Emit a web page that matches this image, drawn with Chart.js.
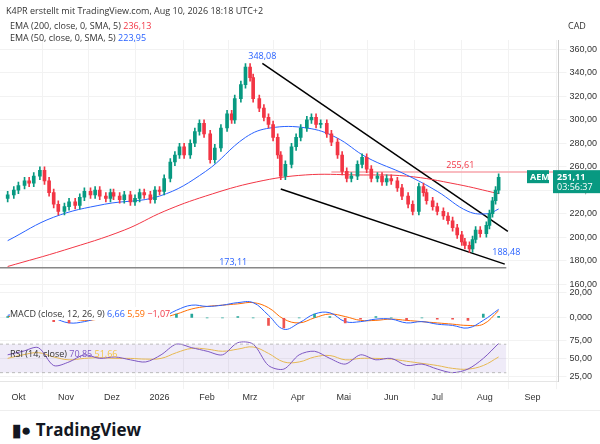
<!DOCTYPE html>
<html><head><meta charset="utf-8">
<script src="https://cdn.jsdelivr.net/npm/chart.js@4/dist/chart.umd.min.js"></script>
<style>
body{margin:0;background:#fff;font-family:"Open Sans",Roboto,sans-serif;}
#wrap{position:relative;width:600px;height:444px;}
canvas{position:absolute;left:0;top:0;}
.t{position:absolute;font-size:9px;color:#333;white-space:nowrap;}
#foot{position:absolute;left:0;top:410px;width:600px;height:34px;border-top:1px solid #eee;}
</style></head><body>
<div id="wrap">
<canvas id="c" width="600" height="410"></canvas>
<div class="t" style="left:6px;top:4px;">K4PR erstellt mit TradingView.com, Aug 10, 2026 18:18 UTC+2</div>
<div class="t" style="left:10px;top:19px;">EMA (200, close, 0, SMA, 5) <span style="color:#f23645">236,13</span></div>
<div class="t" style="left:10px;top:31px;">EMA (50, close, 0, SMA, 5) <span style="color:#2962ff">223,95</span></div>
<div class="t" style="left:568px;top:19px;">CAD</div>
<div class="t" style="left:10px;top:307px;background:#fff;">MACD (close, 12, 26, 9) <span style="color:#2962ff">6,66</span> <span style="color:#ff6d00">5,59</span> <span style="color:#f23645">−1,07</span></div>
<div class="t" style="left:10px;top:347px;">RSI (14, close) <span style="color:#7e57c2">70,85</span> <span style="color:#f5c542">51,66</span></div>
<div id="foot"><div class="t" style="left:12px;top:7px;font-size:17px;font-weight:bold;color:#131722;">&#9646;&#9679; TradingView</div></div>
</div>
<script>
// price candles: day offsets from 1 Oct 2025, closes
const days=[-7,-3,0,4,7,10,14,17,20,23,26,30,33,37,40,43,47,50,53,57,60,62,66,69,73,76,79,82,86,89,92,95,99,102,105,108,112,115,118,121,125,128,132,136,139,141,145,148,151,153,157,160,163,166,169,171,174,178,181,184,188,191,194,197,201,204,208,211,214,217,221,224,227,230,234,237,240,243,247,250,254,257,261,264,266,270,273,277,280,283,286,289,291,294,296,298,301,305,307,309,311,313];
const closes=[236,240,244,248,246,252,257,248,238,228,222,226,230,227,234,239,236,240,235,233,238,235,232,236,230,233,238,236,232,240,239,250,264,270,277,270,280,290,297,288,266,276,293,305,300,318,330,345,336,318,310,302,296,285,270,252,262,277,285,293,300,302,296,297,288,281,270,256,250,252,262,268,258,250,252,247,250,248,242,235,228,222,243,238,231,226,222,218,214,208,202,196,193,190,198,206,203,210,220,231,240,251];
const emaDays50=[-7,23,56,92,122,148,164,188,207,227,253,273,293,306,313];
const ema50=[197,217,228,235,256,285,293,293,285,268,253,239,222,220,224];
const emaDays200=[-7,30,69,95,122,155,187,220,253,286,313];
const ema200=[175,189,206,222,235,247,253,253,252,245,237];
// MACD / RSI
const oscDays=[-7,3,13,23,33,43,53,63,73,83,93,103,113,123,133,143,153,163,173,183,193,203,213,223,233,243,253,263,273,283,293,303,313];
const macd=[2,4,5,0,-4,-3,0,1,0,-1,0,6,10,9,10,12,12,2,-9,-4,3,4,-3,-3,-1,-1,-4,-3,-5,-6,-8,-2,6.7];
const signal=[1,2,4,3,0,-2,-1,0,0,0,0,3,7,9,10,11,12,8,-1,-4,0,3,1,-2,-2,-1,-2,-3,-4,-5,-6,-5,5.6];
const rsi=[55,60,65,40,45,55,50,52,48,45,55,70,65,60,55,72,70,40,35,55,60,50,42,55,48,50,40,42,35,30,35,50,71];
const rsiMa=[50,55,58,52,48,50,51,50,50,49,50,58,64,63,60,63,66,57,45,45,52,54,48,50,50,49,46,43,40,36,35,40,52];
const monthDays=[0,31,61,92,123,151,182,212,243,273,304,335];
const monthLabels=["Okt","Nov","Dez","2026","Feb","Mrz","Apr","Mai","Jun","Jul","Aug","Sep"];
const upper=[[159,348],[319,205]];
const lower=[[171,241],[317,177]];

const GREEN="#089981",RED="#f23645";
const opens=closes.map((c,i)=>i?closes[i-1]:c-3);
const col=closes.map((c,i)=>c>=opens[i]?GREEN:RED);
const bodies=days.map((d,i)=>({x:d,y:[opens[i],closes[i]]}));
const wicks=days.map((d,i)=>({x:d,y:[Math.min(opens[i],closes[i])-3,Math.max(opens[i],closes[i])+3]}));
const pts=(xs,ys)=>xs.map((x,i)=>({x:x,y:ys[i]}));
const hist=oscDays.map((d,i)=>({x:d,y:macd[i]-signal[i]}));

const labelsPlugin={id:"lbl",afterDatasetsDraw(ch){
  const c=ch.ctx,x=ch.scales.x,y=ch.scales.y;
  c.save();c.font="9px 'Open Sans'";c.textAlign="center";
  c.fillStyle="#2962ff";
  c.fillText("348,08",x.getPixelForValue(159),y.getPixelForValue(352));
  c.fillText("188,48",x.getPixelForValue(318),y.getPixelForValue(185));
  c.fillText("173,11",x.getPixelForValue(140),y.getPixelForValue(176));
  c.fillStyle=RED;c.fillText("255,61",x.getPixelForValue(288),y.getPixelForValue(259));
  const py=y.getPixelForValue(251.11);
  c.fillStyle="#089981";c.fillRect(527,py-7,22,13);c.fillRect(553,py-7,47,23);
  c.fillStyle="#fff";c.textAlign="left";c.font="bold 9px 'Open Sans'";
  c.fillText("AEM",530,py+3);c.fillText("251,11",557,py+3);
  c.font="9px 'Open Sans'";c.fillText("03:56:37",557,py+13);
  c.restore();
}};

const yTicks=(vals,fmt)=>({afterBuildTicks:a=>{a.ticks=vals.map(v=>({value:v}));},
  ticks:{autoSkip:false,color:"#333",font:{size:9},callback:fmt},
  grid:{color:"#f2f2f2"},border:{color:"#ccc"}});
const fmt2=v=>v.toFixed(2).replace(".",",");

new Chart(document.getElementById("c"),{
  data:{datasets:[
    {type:"bar",data:wicks,backgroundColor:col,barThickness:1,grouped:false,yAxisID:"y"},
    {type:"bar",data:bodies,backgroundColor:col,barThickness:3,grouped:false,yAxisID:"y"},
    {type:"line",data:pts(emaDays50,ema50),borderColor:"#2962ff",borderWidth:1,pointRadius:0,tension:0.4,yAxisID:"y"},
    {type:"line",data:pts(emaDays200,ema200),borderColor:RED,borderWidth:1,pointRadius:0,tension:0.4,yAxisID:"y"},
    {type:"line",data:upper.map(p=>({x:p[0],y:p[1]})),borderColor:"#000",borderWidth:1.5,pointRadius:0,yAxisID:"y"},
    {type:"line",data:lower.map(p=>({x:p[0],y:p[1]})),borderColor:"#000",borderWidth:1.5,pointRadius:0,yAxisID:"y"},
    {type:"line",data:[{x:204,y:255.61},{x:352,y:255.61}],borderColor:"#f7a5ab",borderWidth:1.5,pointRadius:0,yAxisID:"y"},
    {type:"line",data:[{x:-12,y:174},{x:318,y:174}],borderColor:"#888",borderWidth:1.5,pointRadius:0,yAxisID:"y"},
    {type:"bar",data:hist,backgroundColor:hist.map(h=>h.y>=0?"#26a69a":"#ef5350"),barThickness:2,grouped:false,yAxisID:"yM"},
    {type:"line",data:pts(oscDays,macd),borderColor:"#2962ff",borderWidth:1,pointRadius:0,tension:0.4,yAxisID:"yM"},
    {type:"line",data:pts(oscDays,signal),borderColor:"#ff6d00",borderWidth:1,pointRadius:0,tension:0.4,yAxisID:"yM"},
    {type:"line",data:[{x:-12,y:30},{x:318,y:30}],borderColor:"#bbb",borderDash:[3,3],borderWidth:1,pointRadius:0,yAxisID:"yR"},
    {type:"line",data:[{x:-12,y:70},{x:318,y:70}],borderColor:"#bbb",borderDash:[3,3],borderWidth:1,pointRadius:0,fill:"-1",backgroundColor:"rgba(126,87,194,0.12)",yAxisID:"yR"},
    {type:"line",data:pts(oscDays,rsi),borderColor:"#7e57c2",borderWidth:1,pointRadius:0,tension:0.3,yAxisID:"yR"},
    {type:"line",data:pts(oscDays,rsiMa),borderColor:"#f5c542",borderWidth:1,pointRadius:0,tension:0.4,yAxisID:"yR"}
  ]},
  options:{responsive:false,animation:false,
    layout:{padding:{top:40,left:0,right:0,bottom:4}},
    plugins:{legend:{display:false},tooltip:{enabled:false}},
    scales:{
      x:{type:"linear",min:-12,max:352,offset:false,
        afterBuildTicks:a=>{a.ticks=monthDays.map(v=>({value:v}));},
        ticks:{autoSkip:false,maxRotation:0,color:"#333",font:{size:9},callback:v=>monthLabels[monthDays.indexOf(v)]},
        grid:{color:"#f2f2f2"}},
      y:Object.assign({position:"right",stack:"p",stackWeight:252,min:155,max:368},
        yTicks([160,180,200,220,240,260,280,300,320,340,360],fmt2)),
      yM:Object.assign({position:"right",stack:"p",stackWeight:46,min:-14,max:22},
        yTicks([0,20],v=>v===0?"0,000":"20,00")),
      yR:Object.assign({position:"right",stack:"p",stackWeight:46,min:18,max:82},
        yTicks([25,50,75],fmt2))
    }
  },
  plugins:[labelsPlugin]
});
</script>
</body></html>
